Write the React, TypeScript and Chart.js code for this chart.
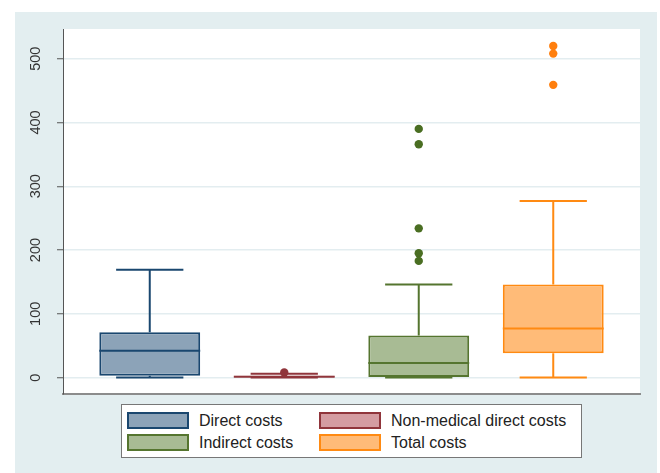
import React, { useEffect, useRef } from 'react';
import { Chart, registerables } from 'chart.js';

Chart.register(...registerables);

const categories = ['Direct costs', 'Non-medical direct costs', 'Indirect costs', 'Total costs'];
const lowerWhisker = [0, 0, 0, 0];
const q1 = [3, 0, 1, 38];
const median = [42, 1.5, 23, 77];
const q3 = [71, 3, 66, 146];
const upperWhisker = [169, 6, 146, 277];
const outliersDirect: number[] = [];
const outliersNonMedical = [8];
const outliersIndirect = [390, 366, 234, 195, 183];
const outliersTotal = [520, 508, 459];
const outliers = [outliersDirect, outliersNonMedical, outliersIndirect, outliersTotal];
const yTicks = [0, 100, 200, 300, 400, 500];

const lineColors = ['#1A476F', '#90353B', '#55752F', '#FF8A12'];
const fillColors = ['#8CA3B8', '#D49CA1', '#A8BB94', '#FFBB78'];
const markerColors = ['#1A476F', '#90353B', '#4A6E22', '#FF7F0E'];

const FONT = '"Liberation Sans", Arial, Helvetica, sans-serif';

const boxPlugin = {
  id: 'boxParts',
  beforeDraw(chart: any) {
    const { ctx, chartArea } = chart;
    ctx.save();
    ctx.fillStyle = '#E3EEF0';
    ctx.fillRect(15, 12, 642, 461);
    ctx.fillStyle = '#FFFFFF';
    ctx.fillRect(chartArea.left, chartArea.top, chartArea.right - chartArea.left, chartArea.bottom - chartArea.top);
    ctx.restore();
  },
  beforeDatasetsDraw(chart: any) {
    const { ctx } = chart;
    const xs = chart.scales.x;
    const ys = chart.scales.y;
    const meta = chart.getDatasetMeta(0);
    ctx.save();
    ctx.lineWidth = 2;
    categories.forEach((_, i) => {
      const bar = meta.data[i];
      const cx = xs.getPixelForValue(i + 1);
      const capHalf = bar.width / 3;
      ctx.strokeStyle = lineColors[i];
      const yHi = ys.getPixelForValue(upperWhisker[i]);
      const yLo = ys.getPixelForValue(lowerWhisker[i]);
      const yQ1 = ys.getPixelForValue(q1[i]);
      const yQ3 = ys.getPixelForValue(q3[i]);
      ctx.beginPath();
      ctx.moveTo(cx, yQ3);
      ctx.lineTo(cx, yHi);
      ctx.moveTo(cx - capHalf, yHi);
      ctx.lineTo(cx + capHalf, yHi);
      ctx.moveTo(cx, yQ1);
      ctx.lineTo(cx, yLo);
      ctx.moveTo(cx - capHalf, yLo);
      ctx.lineTo(cx + capHalf, yLo);
      ctx.stroke();
    });
    ctx.restore();
  },
  afterDatasetsDraw(chart: any) {
    const { ctx } = chart;
    const xs = chart.scales.x;
    const ys = chart.scales.y;
    const meta = chart.getDatasetMeta(0);
    ctx.save();
    ctx.lineWidth = 2;
    categories.forEach((_, i) => {
      const bar = meta.data[i];
      const cx = xs.getPixelForValue(i + 1);
      const half = bar.width / 2;
      const y = ys.getPixelForValue(median[i]);
      ctx.strokeStyle = lineColors[i];
      ctx.beginPath();
      ctx.moveTo(cx - half, y);
      ctx.lineTo(cx + half, y);
      ctx.stroke();
    });
    ctx.restore();
  },
  afterDraw(chart: any) {
    const { ctx } = chart;
    const ys = chart.scales.y;
    ctx.save();
    ctx.fillStyle = '#333333';
    ctx.font = '14.5px ' + FONT;
    ctx.textAlign = 'center';
    ctx.textBaseline = 'alphabetic';
    yTicks.forEach((v) => {
      const y = ys.getPixelForValue(v);
      ctx.save();
      ctx.translate(40, y);
      ctx.rotate(-Math.PI / 2);
      ctx.fillText(String(v), 0, 0);
      ctx.restore();
    });
    ctx.restore();
  },
};

export default function App() {
  const ref = useRef<HTMLCanvasElement>(null);

  useEffect(() => {
    const boxData = categories.map((_, i) => ({ x: i + 1, y: [q1[i], q3[i]] }));
    const scatterSets = outliers.map((vals, i) => ({
      type: 'scatter' as const,
      label: categories[i] + ' outliers',
      data: vals.map((v) => ({ x: i + 1, y: v })),
      backgroundColor: markerColors[i],
      borderWidth: 0,
      pointRadius: 4.2,
      pointHoverRadius: 4.2,
    }));
    const chart = new Chart(ref.current!, {
      type: 'bar',
      data: {
        datasets: [
          {
            label: 'boxes',
            data: boxData as any,
            backgroundColor: fillColors,
            borderColor: lineColors,
            borderWidth: 2,
            borderSkipped: false,
            categoryPercentage: 1,
            barPercentage: 0.75,
          } as any,
          ...(scatterSets as any[]),
        ],
      },
      plugins: [boxPlugin],
      options: {
        animation: false,
        responsive: false,
        events: [],
        layout: { padding: { left: 43, top: 29, right: 20, bottom: 79 } },
        plugins: { legend: { display: false }, tooltip: { enabled: false } },
        scales: {
          x: {
            type: 'linear',
            offset: false,
            min: 0.355,
            max: 4.645,
            afterBuildTicks: (s: any) => {
              s.ticks = [1, 2, 3, 4].map((v) => ({ value: v }));
            },
            afterFit: (s: any) => {
              s.height = 0;
            },
            ticks: { display: false },
            grid: { display: false, drawTicks: false, offset: false },
            border: { display: true, color: '#8C8C8C', width: 2 },
          },
          y: {
            type: 'linear',
            min: -25.7,
            max: 546.6,
            afterBuildTicks: (s: any) => {
              s.ticks = yTicks.map((v) => ({ value: v }));
            },
            afterFit: (s: any) => {
              s.width = 20;
            },
            ticks: { display: false },
            grid: { color: '#E3EDF0', lineWidth: 1.5, drawTicks: true, tickLength: 6, tickColor: '#555555', tickWidth: 1 },
            border: { display: true, color: '#555555', width: 1 },
          },
        },
      } as any,
    });
    return () => chart.destroy();
  }, []);

  const legendItems = categories.map((name, i) => {
    const col = i % 2;
    const row = Math.floor(i / 2);
    const sx = col === 0 ? 127 : 319;
    const sy = row === 0 ? 412 : 434;
    return (
      <React.Fragment key={name}>
        <div
          style={{
            position: 'absolute',
            left: sx,
            top: sy,
            width: 62,
            height: 17,
            boxSizing: 'border-box',
            border: '2px solid ' + lineColors[i],
            background: fillColors[i],
          }}
        />
        <div
          style={{
            position: 'absolute',
            left: sx + 72,
            top: sy - 2,
            height: 21,
            lineHeight: '21px',
            fontSize: 16,
            color: '#222222',
            whiteSpace: 'nowrap',
          }}
        >
          {name}
        </div>
      </React.Fragment>
    );
  });

  return (
    <div style={{ position: 'absolute', left: 0, top: 0, width: 660, height: 473, fontFamily: FONT, background: '#FFFFFF' }}>
      <canvas ref={ref} width={660} height={473} style={{ position: 'absolute', left: 0, top: 0, width: 660, height: 473 }} />
      <div
        style={{
          position: 'absolute',
          left: 121,
          top: 404,
          width: 461,
          height: 54,
          boxSizing: 'border-box',
          border: '1px solid #777777',
          background: '#FFFFFF',
        }}
      />
      {legendItems}
    </div>
  );
}
